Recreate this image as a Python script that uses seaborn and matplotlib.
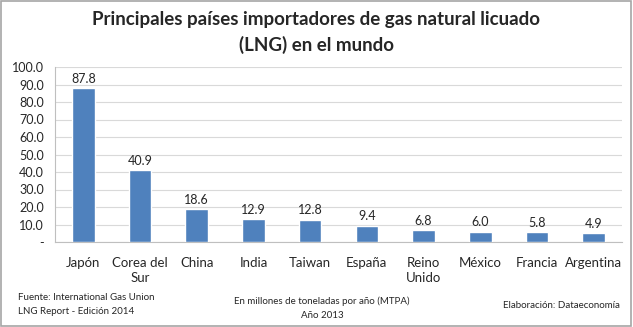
import matplotlib
matplotlib.use("Agg")
import matplotlib.pyplot as plt
import seaborn as sns
import pandas as pd
import numpy as np
from matplotlib.patches import Rectangle

paises = ["Japón", "Corea del\nSur", "China", "India", "Taiwan", "España",
          "Reino\nUnido", "México", "Francia", "Argentina"]
importaciones = [87.8, 40.9, 18.6, 12.9, 12.8, 9.4, 6.8, 6.0, 5.8, 4.9]
y_ticks = [0, 10, 20, 30, 40, 50, 60, 70, 80, 90, 100]

df = pd.DataFrame({"pais": paises, "mtpa": importaciones})

sns.set_style("white")
plt.rcParams["font.family"] = ["Lato", "DejaVu Sans"]

fig = plt.figure(figsize=(6.33, 3.27), dpi=100)
ax = fig.add_axes([55 / 633, 1 - 242 / 327, 567 / 633, 175 / 327])

sns.barplot(data=df, x="pais", y="mtpa", color="#4F81BD", width=0.4,
            saturation=1, ax=ax, zorder=3)

ax.set_ylim(0, 100)
ax.set_xlim(-0.5, len(paises) - 0.5)
ax.set_yticks(y_ticks)
ax.set_yticklabels(["-" if v == 0 else f"{v:.1f}" for v in y_ticks], fontsize=9)
ax.yaxis.grid(True, color="#D9D9D9", linewidth=0.8, zorder=0)
ax.set_axisbelow(True)

ax.set_xticks(range(len(paises)))
ax.set_xticklabels(paises, fontsize=9.5, linespacing=1.3)
ax.set_xticks(np.arange(-0.5, len(paises) + 0.5, 1), minor=True)
ax.tick_params(axis="x", which="major", length=0, pad=11)
ax.tick_params(axis="x", which="minor", length=5, color="#BFBFBF", direction="out")
ax.tick_params(axis="y", length=4, color="#BFBFBF", direction="out", pad=4)

for side in ["top", "right"]:
    ax.spines[side].set_visible(False)
for side in ["left", "bottom"]:
    ax.spines[side].set_color("#BFBFBF")
    ax.spines[side].set_linewidth(0.8)

ax.set_xlabel("")
ax.set_ylabel("")

for i, v in enumerate(importaciones):
    ax.text(i, v + 1.8, f"{v:.1f}", ha="center", va="bottom", fontsize=9)

fig.text(0.5, 1 - 20 / 327, "Principales países importadores de gas natural licuado",
         ha="center", va="center", fontsize=13.5, fontweight="bold")
fig.text(0.5, 1 - 45 / 327, "(LNG) en el mundo",
         ha="center", va="center", fontsize=13.5, fontweight="bold")

fig.text(18 / 633, 1 - 298 / 327, "Fuente: International Gas Union",
         ha="left", va="center", fontsize=7)
fig.text(18 / 633, 1 - 312 / 327, "LNG Report - Edición 2014",
         ha="left", va="center", fontsize=7)
fig.text(322 / 633, 1 - 301 / 327, "En millones de toneladas por año (MTPA)",
         ha="center", va="center", fontsize=7)
fig.text(322 / 633, 1 - 315 / 327, "Año 2013",
         ha="center", va="center", fontsize=7)
fig.text(561 / 633, 1 - 306 / 327, "Elaboración: Dataeconomía",
         ha="center", va="center", fontsize=7)

fig.patches.append(Rectangle((0.002, 0.003), 0.995, 0.994, transform=fig.transFigure,
                             fill=False, edgecolor="#A6A6A6", linewidth=1.2))

fig.savefig("out.png", dpi=100)
